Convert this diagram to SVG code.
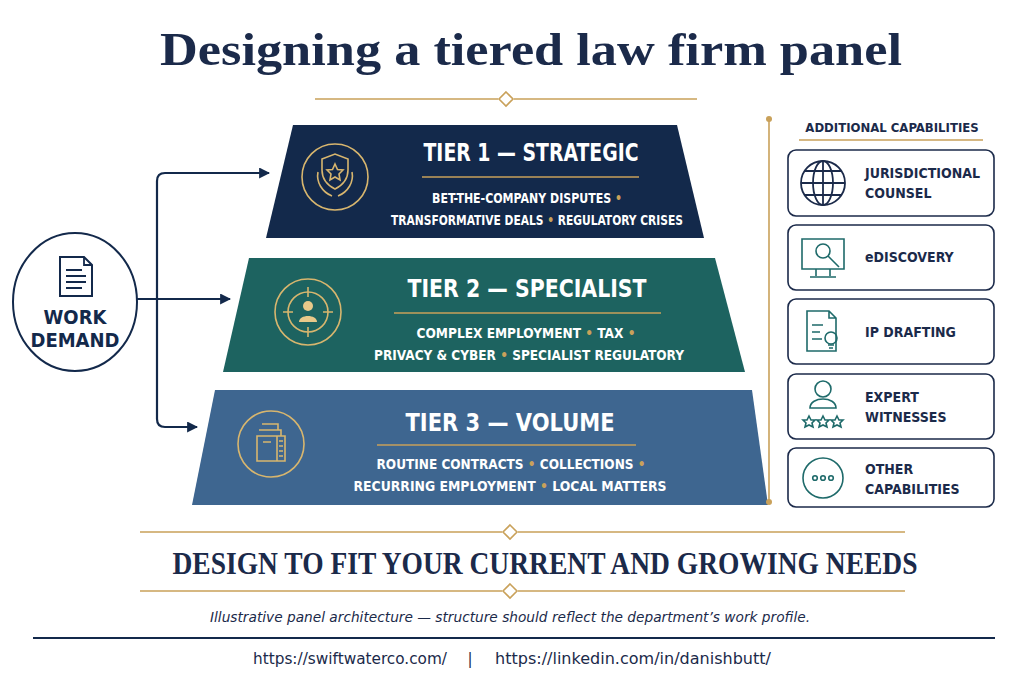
<svg xmlns="http://www.w3.org/2000/svg" width="1024" height="683" viewBox="0 0 1024 683">
<defs>
<style>
.cond{font-family:"DejaVu Sans Condensed","DejaVu Sans",sans-serif;font-weight:bold}
.tt{font-size:25px;fill:#fff}
.sub{font-size:13.5px;fill:#fff}
.cap{font-family:"DejaVu Sans Condensed","DejaVu Sans",sans-serif;font-weight:bold;font-size:14px;fill:#1b2a4a}
.gold{stroke:#c9a15a;stroke-width:1.6;fill:none}
.gi{stroke:#d8b66e;stroke-width:1.6;fill:none}
.box{fill:#fff;stroke:#1b2a4a;stroke-width:1.6}
.teal{stroke:#1e6a6a;stroke-width:1.6;fill:none}
.conn{stroke:#13294b;stroke-width:2.2;fill:none}
</style>
<marker id="ah" viewBox="0 0 10 10" refX="9" refY="5" markerWidth="5" markerHeight="5" orient="auto" markerUnits="strokeWidth"><path d="M0,0 L10,5 L0,10 z" fill="#13294b"/></marker>
</defs>
<rect width="1024" height="683" fill="#fff"/>
<text x="531" y="65" text-anchor="middle" font-family="Liberation Serif,serif" font-weight="bold" font-size="46" fill="#1b2a4a" textLength="742" lengthAdjust="spacingAndGlyphs">Designing a tiered law firm panel</text>
<path class="gold" d="M315 99H498M514 99H697M506 92L513 99L506 106L499 99Z"/>

<g id="tier1">
<path d="M293 125H677L704 238H266Z" fill="#13294b"/>
<circle cx="335" cy="177" r="33" class="gi"/>
<path class="gi" d="M322 159L335 154L348 159V170C348 180 341 186 335 189C329 186 322 180 322 170Z"/>
<path class="gi" d="M335 164L337.5 169.5L343 170L339 174L340 180L335 177L330 180L331 174L327 170L332.5 169.5Z"/>
<path class="gi" d="M318 172C316 182 322 192 332 196M352 172C354 182 348 192 338 196"/>
<text class="cond tt" x="531" y="161" text-anchor="middle" textLength="215" lengthAdjust="spacingAndGlyphs">TIER 1 — STRATEGIC</text>
<line class="gold" x1="422" y1="177" x2="639" y2="177"/>
<text class="cond sub" x="527" y="203" text-anchor="middle" textLength="190" lengthAdjust="spacingAndGlyphs">BET-THE-COMPANY DISPUTES <tspan fill="#c9a15a">•</tspan></text>
<text class="cond sub" x="537" y="225" text-anchor="middle" textLength="292" lengthAdjust="spacingAndGlyphs">TRANSFORMATIVE DEALS <tspan fill="#c9a15a">•</tspan> REGULATORY CRISES</text>
</g>

<g id="tier2">
<path d="M249 258H715L745 372H223Z" fill="#1d6360"/>
<circle cx="308" cy="312" r="33" class="gi"/>
<circle cx="308" cy="312" r="20" class="gi"/>
<path class="gi" d="M308 287V297M308 327V337M283 312H293M323 312H333"/>
<circle cx="308" cy="306" r="5" fill="#e8c98a"/>
<path d="M299 322C299 314 317 314 317 322Z" fill="#e8c98a"/>
<text class="cond tt" x="527" y="297" text-anchor="middle" textLength="239" lengthAdjust="spacingAndGlyphs">TIER 2 — SPECIALIST</text>
<line class="gold" x1="394" y1="313" x2="661" y2="313"/>
<text class="cond sub" x="526" y="338" text-anchor="middle" textLength="219" lengthAdjust="spacingAndGlyphs">COMPLEX EMPLOYMENT <tspan fill="#c9a15a">•</tspan> TAX <tspan fill="#c9a15a">•</tspan></text>
<text class="cond sub" x="529" y="360" text-anchor="middle" textLength="310" lengthAdjust="spacingAndGlyphs">PRIVACY &amp; CYBER <tspan fill="#c9a15a">•</tspan> SPECIALIST REGULATORY</text>
</g>

<g id="tier3">
<path d="M215 390H752L768 505H192Z" fill="#3e6690"/>
<circle cx="271" cy="444" r="33" class="gi"/>
<path class="gi" d="M257 436H285V461H257ZM259 430H281V436M262 424H278V430M263 442H271M279 441H283M279 446H283M279 451H283M279 456H283M277 436V461"/>
<text class="cond tt" x="510" y="431" text-anchor="middle" textLength="209" lengthAdjust="spacingAndGlyphs">TIER 3 — VOLUME</text>
<line class="gold" x1="377" y1="445" x2="636" y2="445"/>
<text class="cond sub" x="511" y="469" text-anchor="middle" textLength="269" lengthAdjust="spacingAndGlyphs">ROUTINE CONTRACTS <tspan fill="#c9a15a">•</tspan> COLLECTIONS <tspan fill="#c9a15a">•</tspan></text>
<text class="cond sub" x="510" y="491" text-anchor="middle" textLength="313" lengthAdjust="spacingAndGlyphs">RECURRING EMPLOYMENT <tspan fill="#c9a15a">•</tspan> LOCAL MATTERS</text>
</g>

<g id="work-demand">
<ellipse cx="75" cy="302" rx="62" ry="69" fill="#fff" stroke="#13294b" stroke-width="2"/>
<path d="M60 257H84L92 265V296H60Z" fill="none" stroke="#13294b" stroke-width="2"/>
<path d="M84 257V265H92M66 270H82M66 276H86M66 282H86M66 288H82" fill="none" stroke="#13294b" stroke-width="1.8"/>
<text class="cond" x="75" y="324" text-anchor="middle" font-size="20" fill="#13294b">WORK</text>
<text class="cond" x="75" y="347" text-anchor="middle" font-size="20" fill="#13294b">DEMAND</text>
</g>

<g id="connectors">
<path class="conn" d="M137 299H230" marker-end="url(#ah)"/>
<path class="conn" d="M157 299V181Q157 173 165 173H269" marker-end="url(#ah)"/>
<path class="conn" d="M157 299V419Q157 427 165 427H197" marker-end="url(#ah)"/>
</g>

<g id="gold-rail">
<line class="gold" x1="769" y1="119" x2="769" y2="502" stroke-width="2"/>
<circle cx="769" cy="119" r="3" fill="#c9a15a"/>
<circle cx="769" cy="502" r="3" fill="#c9a15a"/>
</g>

<text class="cond" x="892" y="132" text-anchor="middle" font-size="13" fill="#1b2a4a">ADDITIONAL CAPABILITIES</text>
<line class="gold" x1="799" y1="140" x2="983" y2="140"/>

<g id="cap1">
<rect class="box" x="788" y="150" width="206" height="66" rx="8"/>
<g fill="none" stroke="#1b2a4a" stroke-width="1.8">
<circle cx="823" cy="183" r="22"/><ellipse cx="823" cy="183" rx="10" ry="22"/>
<path d="M801 183H845M823 161V205M805 171H841M805 195H841"/></g>
<text class="cap" x="865" y="178">JURISDICTIONAL</text>
<text class="cap" x="865" y="198">COUNSEL</text>
</g>
<g id="cap2">
<rect class="box" x="788" y="225" width="206" height="65" rx="8"/>
<path class="teal" d="M802 239H844V269H802ZM816 269V276M830 269V276M810 277H836"/>
<circle class="teal" cx="823" cy="251" r="7"/>
<path class="teal" d="M828 256L839 267"/>
<text class="cap" x="865" y="262">eDISCOVERY</text>
</g>
<g id="cap3">
<rect class="box" x="788" y="299" width="206" height="65" rx="8"/>
<path class="teal" d="M807 311H829L836 318V351H807ZM829 311V318H836M812 325H823M812 332H820M812 339H822"/>
<circle class="teal" cx="831" cy="338" r="6" fill="#fff"/>
<path class="teal" d="M828 345H834M829 348H833"/>
<text class="cap" x="865" y="337">IP DRAFTING</text>
</g>
<g id="cap4">
<rect class="box" x="788" y="374" width="206" height="65" rx="8"/>
<circle class="teal" cx="823" cy="389" r="8"/>
<path class="teal" d="M810 408C810 396 836 396 836 408Z"/>
<g class="teal" stroke-width="1.3"><path d="M809 416L811 420L815 420L812 423L813 427L809 425L805 427L806 423L803 420L807 420Z"/><path d="M823 416L825 420L829 420L826 423L827 427L823 425L819 427L820 423L817 420L821 420Z"/><path d="M837 416L839 420L843 420L840 423L841 427L837 425L833 427L834 423L831 420L835 420Z"/></g>
<text class="cap" x="865" y="402">EXPERT</text>
<text class="cap" x="865" y="422">WITNESSES</text>
</g>
<g id="cap5">
<rect class="box" x="788" y="448" width="206" height="59" rx="8"/>
<circle class="teal" cx="823" cy="478" r="20"/>
<circle class="teal" cx="815" cy="478" r="2.3"/><circle class="teal" cx="823" cy="478" r="2.3"/><circle class="teal" cx="831" cy="478" r="2.3"/>
<text class="cap" x="865" y="474">OTHER</text>
<text class="cap" x="865" y="494">CAPABILITIES</text>
</g>

<path class="gold" d="M140 532H502M518 532H905M510 525L517 532L510 539L503 532Z"/>
<text x="545" y="574" text-anchor="middle" font-family="Liberation Serif,serif" font-weight="bold" font-size="31" fill="#1b2a4a" textLength="745" lengthAdjust="spacingAndGlyphs">DESIGN TO FIT YOUR CURRENT AND GROWING NEEDS</text>
<path class="gold" d="M140 591H502M518 591H905M510 584L517 591L510 598L503 591Z"/>
<text x="510" y="622" text-anchor="middle" font-family="DejaVu Sans Condensed,DejaVu Sans,sans-serif" font-style="italic" font-size="14" fill="#1b2a4a" textLength="600" lengthAdjust="spacingAndGlyphs">Illustrative panel architecture — structure should reflect the department’s work profile.</text>
<line x1="33" y1="638" x2="995" y2="638" stroke="#13294b" stroke-width="2"/>
<text x="350" y="664" text-anchor="middle" font-family="DejaVu Sans Condensed,DejaVu Sans,sans-serif" font-size="15" fill="#1b2a4a" textLength="194" lengthAdjust="spacingAndGlyphs">https://swiftwaterco.com/</text>
<text x="470" y="664" text-anchor="middle" font-family="DejaVu Sans,sans-serif" font-size="15" fill="#1b2a4a">|</text>
<text x="633" y="664" text-anchor="middle" font-family="DejaVu Sans Condensed,DejaVu Sans,sans-serif" font-size="15" fill="#1b2a4a" textLength="276" lengthAdjust="spacingAndGlyphs">https://linkedin.com/in/danishbutt/</text>
</svg>
